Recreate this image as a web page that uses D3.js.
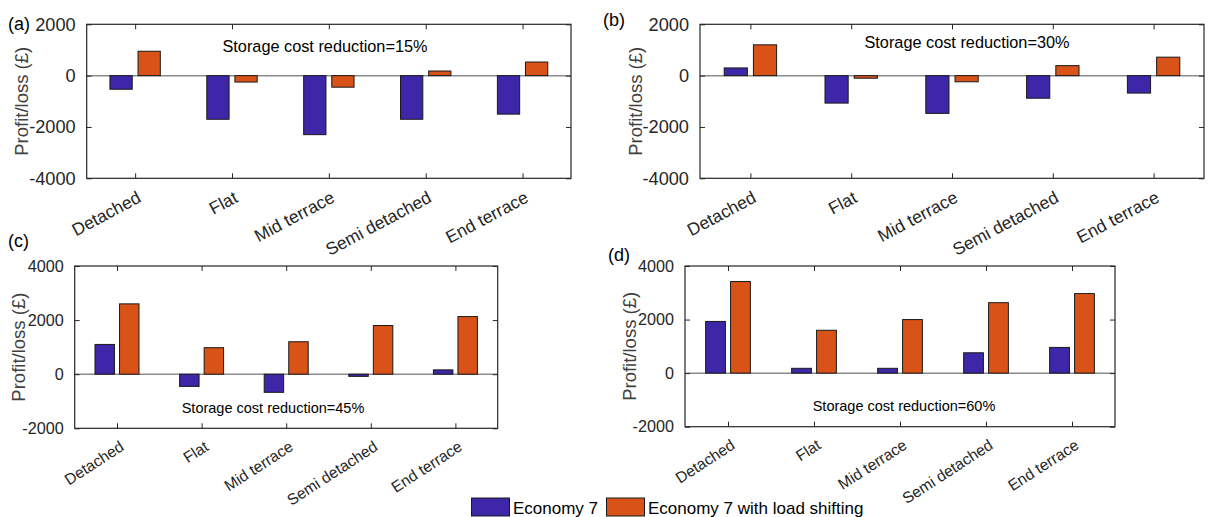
<!DOCTYPE html>
<html>
<head>
<meta charset="utf-8">
<script src="https://cdn.jsdelivr.net/npm/d3@7"></script>
<style>
  body { margin: 0; background: #fff; }
  svg { display: block; font-family: Arial, "Liberation Sans", sans-serif; }
</style>
</head>
<body>
<div id="chart"></div>
<script>
// categories + values
const categories = ["Detached", "Flat", "Mid terrace", "Semi detached", "End terrace"];

const e7_15 = [-530, -1700, -2300, -1700, -1500];
const shift_15 = [950, -250, -450, 180, 530];
const e7_30 = [300, -1070, -1470, -880, -680];
const shift_30 = [1200, -100, -240, 390, 720];
const e7_45 = [1100, -450, -670, -80, 160];
const shift_45 = [2600, 980, 1200, 1800, 2130];
const e7_60 = [1930, 180, 180, 760, 960];
const shift_60 = [3420, 1600, 2000, 2630, 2970];

const yTicksTop = [-4000, -2000, 0, 2000];
const yTicksBottom = [-2000, 0, 2000, 4000];

const seriesNames = ["Economy 7", "Economy 7 with load shifting"];
const colors = ["#3e26a8", "#d95319"];

const width = 1210, height = 517;
const axisColor = "#262626";

const svg = d3.select("#chart").append("svg")
  .attr("width", width)
  .attr("height", height);

// panel layout
const panels = [
  {tag: "(a)", tagX: 8, tagY: 30, e7: e7_15, ls: shift_15, note: "Storage cost reduction=15%",
   x0: 86.7, x1: 571, y0: 24.3, y1: 178.3, dom: [-4000, 2000], ticks: yTicksTop,
   fs: 18.2, catFs: 17.5, rot: 28, noteFs: 16.3, noteX: 325, noteY: 52, labX: 21, labFs: 18.5, lblDx: 7, lblDy: 23},
  {tag: "(b)", tagX: 603, tagY: 26, e7: e7_30, ls: shift_30, note: "Storage cost reduction=30%",
   x0: 700, x1: 1204, y0: 24.3, y1: 178.3, dom: [-4000, 2000], ticks: yTicksTop,
   fs: 18.2, catFs: 17.5, rot: 28, noteFs: 16.3, noteX: 967, noteY: 48, labX: 635, labFs: 18.5, lblDx: 7, lblDy: 23},
  {tag: "(c)", tagX: 8, tagY: 247, e7: e7_45, ls: shift_45, note: "Storage cost reduction=45%",
   x0: 74.7, x1: 497.7, y0: 266, y1: 428.3, dom: [-2000, 4000], ticks: yTicksBottom,
   fs: 16.2, catFs: 15.6, rot: 33, noteFs: 14.5, noteX: 273, noteY: 413, labX: 18, labFs: 18.5, lblDx: 8, lblDy: 21},
  {tag: "(d)", tagX: 608, tagY: 261, e7: e7_60, ls: shift_60, note: "Storage cost reduction=60%",
   x0: 685, x1: 1115, y0: 266, y1: 426.7, dom: [-2000, 4000], ticks: yTicksBottom,
   fs: 16.2, catFs: 15.6, rot: 33, noteFs: 14.5, noteX: 904, noteY: 411, labX: 629, labFs: 18.5, lblDx: 8, lblDy: 21}
];

panels.forEach(p => {
  const x = d3.scaleLinear().domain([0.5, categories.length + 0.5]).range([p.x0, p.x1]);
  const y = d3.scaleLinear().domain(p.dom).range([p.y1, p.y0]);
  const g = svg.append("g");

  // zero line
  g.append("line")
    .attr("x1", p.x0).attr("x2", p.x1)
    .attr("y1", y(0)).attr("y2", y(0))
    .attr("stroke", "#8c8c8c").attr("stroke-width", 1.5);

  // bars: two series per category
  const rows = [];
  categories.forEach((c, i) => {
    rows.push({i: i, s: 0, v: p.e7[i]});
    rows.push({i: i, s: 1, v: p.ls[i]});
  });
  const bw = 0.23, off = 0.145;
  g.selectAll("rect.bar").data(rows).join("rect")
    .attr("class", "bar")
    .attr("x", d => x(d.i + 1 + (d.s === 0 ? -off : off) - bw / 2))
    .attr("width", d => x(bw) - x(0))
    .attr("y", d => y(Math.max(0, d.v)))
    .attr("height", d => Math.abs(y(d.v) - y(0)))
    .attr("fill", d => colors[d.s])
    .attr("stroke", "#1a1a1a")
    .attr("stroke-width", 1);

  // box
  g.append("rect")
    .attr("x", p.x0).attr("y", p.y0)
    .attr("width", p.x1 - p.x0).attr("height", p.y1 - p.y0)
    .attr("fill", "none").attr("stroke", axisColor).attr("stroke-width", 1.2);

  // y axis (left) with inward ticks, mirrored on the right
  const yAxis = g.append("g")
    .attr("transform", `translate(${p.x0},0)`)
    .call(d3.axisLeft(y).tickValues(p.ticks).tickSizeInner(-5).tickSizeOuter(0).tickPadding(11).tickFormat(d => String(d)));
  yAxis.select(".domain").remove();
  yAxis.selectAll("line").attr("stroke", axisColor);
  yAxis.selectAll("text").attr("fill", axisColor).style("font-size", p.fs + "px");

  const yRight = g.append("g")
    .attr("transform", `translate(${p.x1},0)`)
    .call(d3.axisRight(y).tickValues(p.ticks).tickSizeInner(-5).tickSizeOuter(0).tickFormat(""));
  yRight.select(".domain").remove();
  yRight.selectAll("line").attr("stroke", axisColor);

  // x ticks top and bottom, inward
  const xt = d3.range(1, categories.length + 1);
  const xBottom = g.append("g")
    .attr("transform", `translate(0,${p.y1})`)
    .call(d3.axisBottom(x).tickValues(xt).tickSizeInner(-5).tickSizeOuter(0).tickFormat(""));
  xBottom.select(".domain").remove();
  xBottom.selectAll("line").attr("stroke", axisColor);
  const xTop = g.append("g")
    .attr("transform", `translate(0,${p.y0})`)
    .call(d3.axisTop(x).tickValues(xt).tickSizeInner(-5).tickSizeOuter(0).tickFormat(""));
  xTop.select(".domain").remove();
  xTop.selectAll("line").attr("stroke", axisColor);

  // rotated category labels
  g.selectAll("text.cat").data(categories).join("text")
    .attr("class", "cat")
    .attr("transform", (d, i) => `translate(${x(i + 1) + p.lblDx},${p.y1 + p.lblDy}) rotate(${-p.rot})`)
    .attr("text-anchor", "end")
    .attr("fill", axisColor)
    .style("font-size", p.catFs + "px")
    .text(d => d);

  // y label
  g.append("text")
    .attr("transform", `translate(${p.labX},${(p.y0 + p.y1) / 2}) rotate(-90)`)
    .attr("text-anchor", "middle")
    .attr("dominant-baseline", "central")
    .attr("fill", "#404040")
    .style("font-size", p.labFs + "px")
    .text("Profit/loss (£)");

  // annotation
  g.append("text")
    .attr("x", p.noteX).attr("y", p.noteY)
    .attr("text-anchor", "middle")
    .attr("fill", "#000")
    .style("font-size", p.noteFs + "px")
    .text(p.note);

  // panel tag
  svg.append("text")
    .attr("x", p.tagX).attr("y", p.tagY)
    .attr("fill", "#000")
    .style("font-size", "18px")
    .text(p.tag);
});

// legend at the bottom
const legend = svg.append("g");
const legendItems = [
  {name: seriesNames[0], color: colors[0], x: 471.5, tx: 513},
  {name: seriesNames[1], color: colors[1], x: 606.5, tx: 648}
];
legend.selectAll("rect").data(legendItems).join("rect")
  .attr("x", d => d.x).attr("y", 498)
  .attr("width", 38).attr("height", 18)
  .attr("fill", d => d.color)
  .attr("stroke", "#1a1a1a").attr("stroke-width", 1);
legend.selectAll("text").data(legendItems).join("text")
  .attr("x", d => d.tx).attr("y", 514)
  .attr("fill", "#000")
  .style("font-size", "17px")
  .text(d => d.name);
</script>
</body>
</html>
